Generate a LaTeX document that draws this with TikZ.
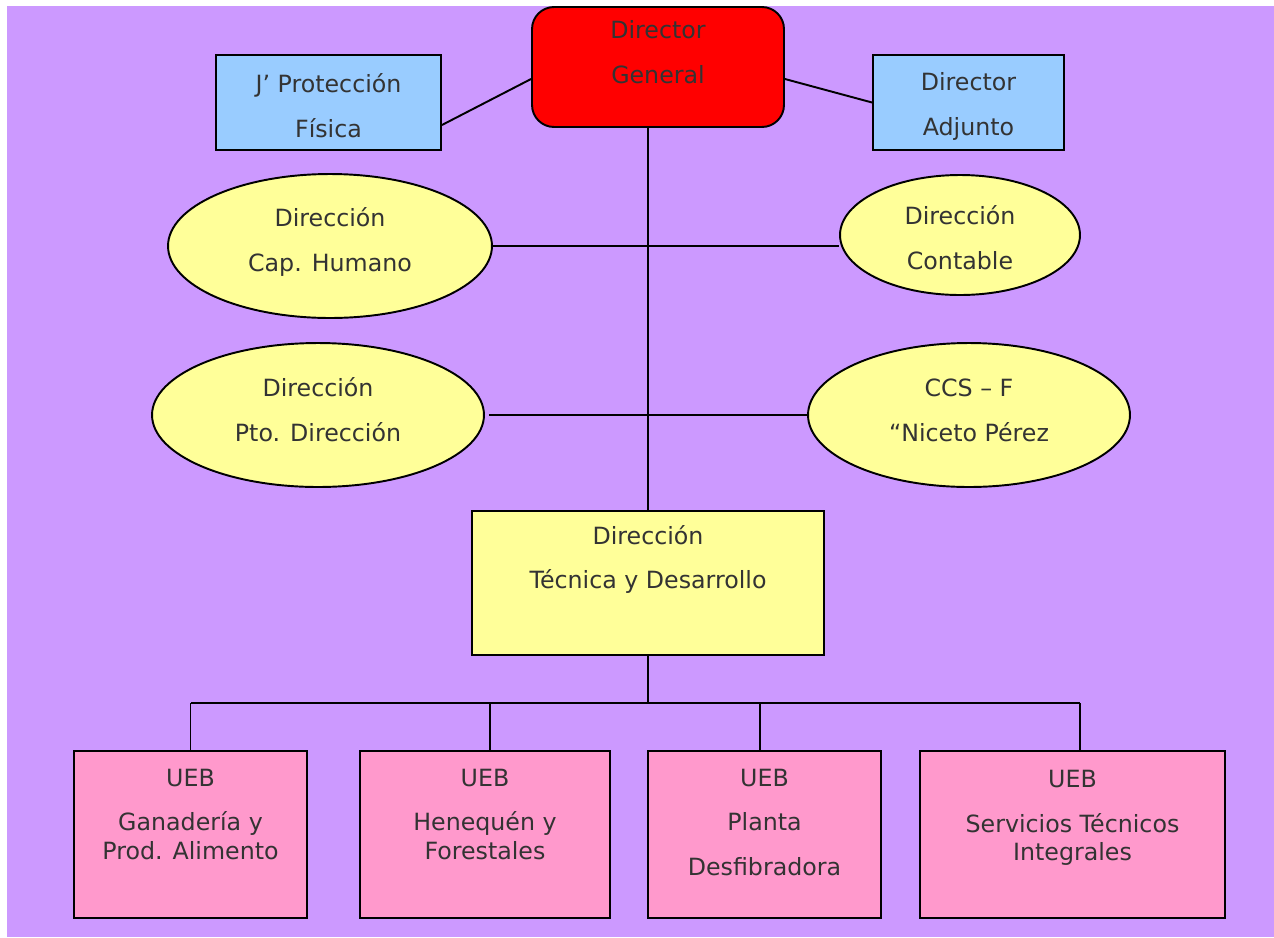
\documentclass[tikz,border=0pt]{standalone}
\usepackage{fontspec}
\setmainfont{DejaVu Sans}
\usepackage{tikz}
\usetikzlibrary{shapes.geometric}

\definecolor{bgpurple}{HTML}{CC99FF}
\definecolor{chiefred}{HTML}{FF0000}
\definecolor{staffblue}{HTML}{99CCFF}
\definecolor{ovalyellow}{HTML}{FFFF99}
\definecolor{uebpink}{HTML}{FF99CC}

\begin{document}
\begin{tikzpicture}[x=0.02cm, y=-0.02cm, line width=1.1pt,
    box/.style={draw, rectangle, inner sep=0pt},
    oval/.style={draw, ellipse, fill=ovalyellow, inner sep=0pt},
    txt/.style={align=center, text=black!80, font=\fontsize{13.5}{25.5}\selectfont}]

  % Frame
  \useasboundingbox (0,0) rectangle (1274,937);
  \fill[bgpurple] (7,6) rectangle (1274,937);

  % Top level
  \node[box, fill=chiefred, rounded corners=0.44cm, minimum width=5.04cm, minimum height=2.4cm] (dg) at (658,67) {};
  \node[txt] (dgtxt) at (658,52.5) {Director\\General};
  \node[box, fill=staffblue, minimum width=4.5cm, minimum height=1.9cm] (jpf) at (328.5,102.5) {};
  \node[txt] (jpftxt) at (328.5,106) {J’ Protección\\Física};
  \node[box, fill=staffblue, minimum width=3.82cm, minimum height=1.9cm] (adj) at (968.5,102.5) {};
  \node[txt] (adjtxt) at (968.5,106.5) {Director\\Adjunto};

  % Staff directions
  \node[oval, minimum width=6.48cm, minimum height=2.88cm] (caph) at (330,246) {};
  \node[txt] (caphtxt) at (330,242) {Dirección\\Cap. Humano};
  \node[oval, minimum width=4.8cm, minimum height=2.4cm] (cont) at (960,235) {};
  \node[txt] (conttxt) at (960,238) {Dirección\\Contable};
  \node[oval, minimum width=6.64cm, minimum height=2.88cm] (pto) at (318,415) {};
  \node[txt] (ptotxt) at (318,410) {Dirección\\Pto. Dirección};
  \node[oval, minimum width=6.44cm, minimum height=2.88cm] (ccs) at (969,415) {};
  \node[txt] (ccstxt) at (969,410) {CCS – F\\“Niceto Pérez};

  % Technical direction
  \node[box, fill=ovalyellow, minimum width=7.04cm, minimum height=2.88cm] (tec) at (648,583) {};
  \node[txt] (tectxt) at (648,559.5) {Dirección\\Técnica y Desarrollo};

  % UEB row
  \node[box, fill=uebpink, minimum width=4.66cm, minimum height=3.34cm] (ueb1) at (190.5,834.5) {};
  \node[box, fill=uebpink, minimum width=5cm, minimum height=3.34cm] (ueb2) at (485,834.5) {};
  \node[box, fill=uebpink, minimum width=4.66cm, minimum height=3.34cm] (ueb3) at (764.5,834.5) {};
  \node[box, fill=uebpink, minimum width=6.1cm, minimum height=3.34cm] (ueb4) at (1072.5,834.5) {};
  \node[txt] (ueb1txt) at (190.5,814.5) {UEB\\Ganadería y\\[-0.32cm]Prod. Alimento};
  \node[txt] (ueb2txt) at (485,814.5) {UEB\\Henequén y\\[-0.32cm]Forestales};
  \node[txt] (ueb3txt) at (764.5,822.5) {UEB\\Planta\\Desfibradora};
  \node[txt] (ueb4txt) at (1072.5,818) {UEB\\Servicios Técnicos\\[-0.32cm]Integrales};

  % Connectors
  \coordinate (bus) at (648,703);
  \draw ([yshift=-0.45cm]jpf.east) -- ([yshift=-0.24cm]dg.west);
  \draw ([yshift=-0.24cm]dg.east) -- (adj.west);
  \draw (tec.north |- dg.south) -- (tec.north);
  \draw (caph.east) -- (cont.west |- caph.east);
  \draw ([xshift=0.08cm]pto.east) -- (ccs.west);
  \draw (tec.south) -- (bus);
  \draw (ueb1.north |- bus) -- ([xshift=0.15cm]ueb4.north |- bus);
  \draw (ueb1.north) -- (ueb1.north |- bus);
  \draw ([xshift=0.1cm]ueb2.north) -- ([xshift=0.1cm]ueb2.north |- bus);
  \draw ([xshift=-0.09cm]ueb3.north) -- ([xshift=-0.09cm]ueb3.north |- bus);
  \draw ([xshift=0.15cm]ueb4.north) -- ([xshift=0.15cm]ueb4.north |- bus);
\end{tikzpicture}
\end{document}
